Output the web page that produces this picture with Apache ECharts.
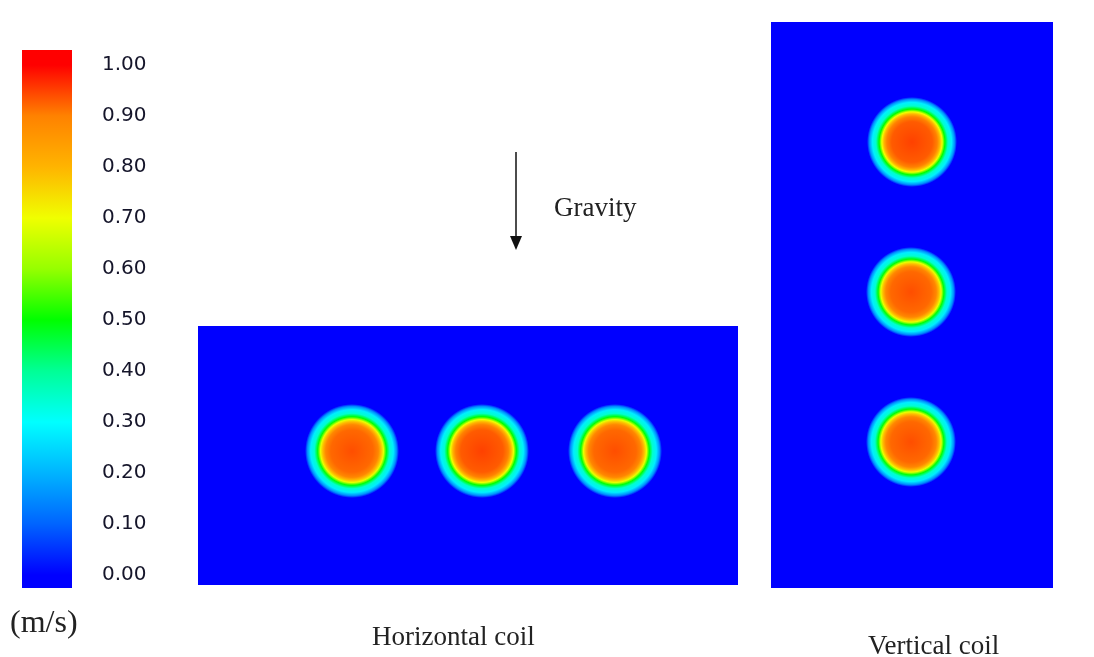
<!DOCTYPE html>
<html>
<head>
<meta charset="utf-8">
<script src="https://cdn.jsdelivr.net/npm/echarts@6/dist/echarts.min.js"></script>
<style>
html, body { margin: 0; padding: 0; background: #fff; }
#chart { width: 1094px; height: 657px; }
</style>
</head>
<body>
<div id="chart"></div>
<script>
// colour scale (m/s)
var scaleTicks = [0, 0.1, 0.2, 0.3, 0.4, 0.5, 0.6, 0.7, 0.8, 0.9, 1.0];
var scaleColors = ['#0000ff', '#0064ff', '#00b4ff', '#00ffff', '#00ff96', '#00ff00',
                   '#96ff00', '#f0ff00', '#ffb400', '#ff8200', '#ff0000'];
var barRange = [-0.0255, 1.0294];

// radial velocity profile across a coil tube (r / R, velocity)
var profileR = [0, 0.45, 0.56, 0.62, 0.67, 0.73, 0.8, 0.88, 0.95, 1.0];
var profileV = [0.95, 0.93, 0.9, 0.8, 0.7, 0.5, 0.35, 0.28, 0.15, 0.0];

// horizontal coil: tube centres, radius, peak velocity
var horizX = [15.4, 28.4, 41.7];
var horizY = [13.4, 13.4, 13.4];
var horizPeak = [0.94, 0.95, 0.94];
var horizR = 4.7;

// vertical coil
var vertX = [14.1, 14.0, 14.0];
var vertY = [44.6, 29.6, 14.6];
var vertPeak = [0.95, 0.94, 0.94];
var vertR = 4.5;

function hexRgb(h) {
    return [parseInt(h.substr(1, 2), 16), parseInt(h.substr(3, 2), 16), parseInt(h.substr(5, 2), 16)];
}

function velColor(v) {
    v = Math.max(0, Math.min(1, v));
    var i = Math.min(scaleTicks.length - 2, Math.floor(v * 10));
    var t = (v - scaleTicks[i]) / (scaleTicks[i + 1] - scaleTicks[i]);
    var a = hexRgb(scaleColors[i]), b = hexRgb(scaleColors[i + 1]);
    return 'rgb(' + Math.round(a[0] + (b[0] - a[0]) * t) + ',' +
        Math.round(a[1] + (b[1] - a[1]) * t) + ',' +
        Math.round(a[2] + (b[2] - a[2]) * t) + ')';
}

function renderCoil(params, api) {
    var c = api.coord([api.value(0), api.value(1)]);
    var r = api.size([api.value(2), 0])[0];
    var peak = api.value(3);
    var stops = profileR.map(function (f, i) {
        return { offset: f, color: velColor(profileV[i] * peak / profileV[0]) };
    });
    return {
        type: 'circle',
        shape: { cx: c[0], cy: c[1], r: r },
        style: { fill: new echarts.graphic.RadialGradient(0.5, 0.5, 0.5, stops) },
        silent: true
    };
}

function renderBar(params, api) {
    var p0 = api.coord([api.value(0), api.value(1)]);
    var p1 = api.coord([api.value(2), api.value(3)]);
    var lo = api.value(1), hi = api.value(3);
    var stops = scaleTicks.map(function (v, i) {
        return { offset: (v - lo) / (hi - lo), color: scaleColors[i] };
    });
    stops.unshift({ offset: 0, color: scaleColors[0] });
    stops.push({ offset: 1, color: scaleColors[scaleColors.length - 1] });
    return {
        type: 'rect',
        shape: { x: p0[0], y: p1[1], width: p1[0] - p0[0], height: p0[1] - p1[1] },
        style: { fill: new echarts.graphic.LinearGradient(0, 1, 0, 0, stops) },
        silent: true
    };
}

function coilData(xs, ys, r, peaks) {
    return xs.map(function (x, i) { return [x, ys[i], r, peaks[i]]; });
}

var hidden = { show: false };
var serif = '"Liberation Serif", "Times New Roman", serif';

var option = {
    backgroundColor: '#ffffff',
    animation: false,
    grid: [
        { left: 198, top: 326, width: 540, height: 259, show: true, backgroundColor: '#0000ff', borderWidth: 0 },
        { left: 771, top: 22, width: 282, height: 566, show: true, backgroundColor: '#0000ff', borderWidth: 0 },
        { left: 22, top: 50, width: 50, height: 538 }
    ],
    xAxis: [
        { gridIndex: 0, type: 'value', min: 0, max: 54, show: false },
        { gridIndex: 1, type: 'value', min: 0, max: 28.2, show: false },
        { gridIndex: 2, type: 'value', min: 0, max: 1, show: false }
    ],
    yAxis: [
        { gridIndex: 0, type: 'value', min: 0, max: 25.9, show: false },
        { gridIndex: 1, type: 'value', min: 0, max: 56.6, show: false },
        {
            gridIndex: 2, type: 'value', position: 'right',
            min: barRange[0], max: barRange[1],
            axisLine: hidden, axisTick: hidden, splitLine: hidden,
            axisLabel: {
                customValues: scaleTicks,
                margin: 30,
                fontSize: 20,
                fontFamily: '"DejaVu Sans", Verdana, sans-serif',
                color: '#15152a',
                formatter: function (v) { return v.toFixed(2); }
            }
        }
    ],
    series: [
        {
            type: 'custom', name: 'scale', xAxisIndex: 2, yAxisIndex: 2,
            renderItem: renderBar,
            data: [[0, barRange[0], 1, barRange[1]]]
        },
        {
            type: 'custom', name: 'Horizontal coil', xAxisIndex: 0, yAxisIndex: 0,
            renderItem: renderCoil,
            data: coilData(horizX, horizY, horizR, horizPeak)
        },
        {
            type: 'custom', name: 'Vertical coil', xAxisIndex: 1, yAxisIndex: 1,
            renderItem: renderCoil,
            data: coilData(vertX, vertY, vertR, vertPeak)
        }
    ],
    graphic: [
        { type: 'text', left: 10, top: 608, style: { text: '(m/s)', font: '32px ' + serif, fill: '#222' } },
        { type: 'line', shape: { x1: 516, y1: 152, x2: 516, y2: 240 }, style: { stroke: '#111', lineWidth: 1.5 } },
        { type: 'polygon', shape: { points: [[510, 236], [522, 236], [516, 250]] }, style: { fill: '#111' } },
        { type: 'text', left: 554, top: 195, style: { text: 'Gravity', font: '27px ' + serif, fill: '#222' } },
        { type: 'text', left: 372, top: 624, style: { text: 'Horizontal coil', font: '27px ' + serif, fill: '#222' } },
        { type: 'text', left: 868, top: 633, style: { text: 'Vertical coil', font: '27px ' + serif, fill: '#222' } }
    ]
};

var myChart = echarts.init(document.getElementById('chart'));
myChart.setOption(option);
</script>
</body>
</html>
